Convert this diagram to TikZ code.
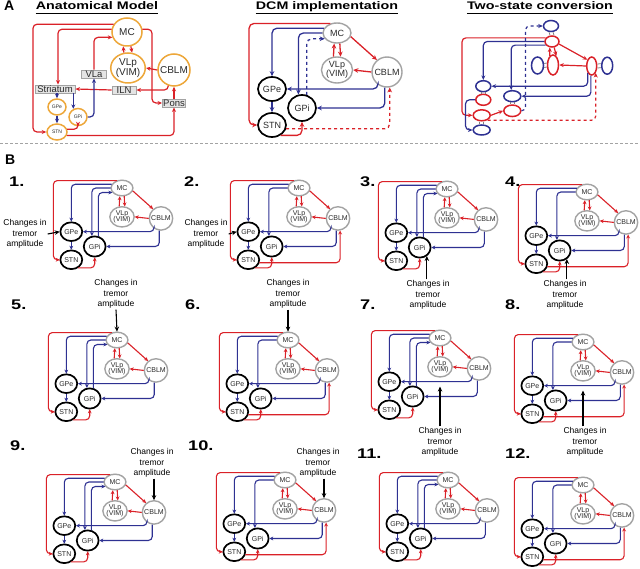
\documentclass[tikz,border=0pt]{standalone}
\usepackage{fontspec}
\setmainfont{Liberation Sans}
\newfontfamily\headfont[FakeStretch=1.3]{Liberation Sans}
\usetikzlibrary{arrows.meta, calc, shapes.geometric}
\definecolor{redc}{HTML}{DA2128}
\definecolor{bluec}{HTML}{2E3192}
\definecolor{orc}{HTML}{EDA73A}
\definecolor{grc}{HTML}{A3A3A3}
\definecolor{boxc}{HTML}{E4E4E4}
\definecolor{txtc}{HTML}{2A2A2A}

% one DCM network: #1 suffix, #2 MC position, #3 size style, #4 variant (0 DCM, 1 odd, 2 even)
\newcommand{\dcmnet}[4]{%
\begin{scope}[shift={#2},#3]
\node[grayc,minimum width=28pt,minimum height=20pt] (mc#1) at (0,0) {MC};
\node[grayc,minimum width=28pt,minimum height=26pt] (vlp#1) at (0,37) {VLp\\(VIM)};
\node[grayc,circle,minimum size=30pt] (cblm#1) at (50,39) {CBLM};
\node[blkc,minimum width=28pt,minimum height=24pt] (gpe#1) at (-65,56) {GPe};
\node[blkc,minimum width=28pt,minimum height=26pt] (gpi#1) at (-35,75) {GPi};
\node[blkc,minimum width=28pt,minimum height=24pt] (stn#1) at (-65,92) {STN};
\coordinate (lc#1) at (-88,92);
% cortex outputs
\draw[rd] (mc#1.125) -| (lc#1) -- (stn#1.west);
\draw[bl] (mc#1.160) -| (gpe#1.north);
\draw[bl] (mc#1.180) -| (gpi#1.105);
\draw[rd] (vlp#1.105) -- (mc#1.255);
\draw[rd] (mc#1.285) -- (vlp#1.75);
\draw[rd] (mc#1.-15) -- (cblm#1.130);
% cerebellum outputs
\draw[rd] (cblm#1.west) -- (vlp#1.east);
\draw[bl] (cblm#1.235) |- (gpe#1.east);
\draw[bl] (cblm#1.262) |- (gpi#1.east);
% basal ganglia
\draw[bl] (gpe#1.south) -- (stn#1.north);
\draw[rd] (stn#1.-50) -| (gpi#1.south);
\ifcase#4\relax
  \draw[bl,dashed] (gpi#1.70) |- (mc#1.205);
  \draw[rd,dashed] (stn#1.-15) -| (cblm#1.280);
\or
  \draw[bl] (gpi#1.70) |- (mc#1.205);
\or
  \draw[rd] (stn#1.-15) -| (cblm#1.280);
\fi
\end{scope}}

\begin{document}
\begin{tikzpicture}[x=1pt,y=-1pt,>={Stealth[length=4.5pt,width=4pt]},
  rd/.style={->,redc},
  bl/.style={->,bluec},
  bignet/.style={line width=1.3pt,rounded corners=5pt,>={Stealth[length=5pt,width=4.6pt]}},
  smallnet/.style={scale=0.78,transform shape,line width=1.1pt,rounded corners=4pt,>={Stealth[length=4pt,width=3.8pt]}},
  grayc/.style={ellipse,draw=grc,line width=1.4pt,fill=white,inner sep=0pt,align=center,text=txtc,font=\fontsize{9}{8.5}\selectfont},
  blkc/.style={grayc,draw=black,line width=1.7pt},
  orcirc/.style={ellipse,draw=orc,line width=1.5pt,fill=white,inner sep=0pt,align=center,text=txtc,font=\fontsize{10}{9.5}\selectfont},
  abox/.style={rectangle,sharp corners,draw=grc,fill=boxc,line width=0.9pt,inner sep=0pt,minimum height=8pt,text=txtc,font=\fontsize{9.5}{9.5}\selectfont},
  tsr/.style={ellipse,draw=redc,line width=1.5pt,fill=white,inner sep=0pt},
  tsb/.style={tsr,draw=bluec},
  ladder/.style={draw=gray,line width=0.8pt},
  stim/.style={align=center,inner sep=1pt,font=\fontsize{8.5}{10.5}\selectfont},
  inarr/.style={->,black,line width=1.1pt,>={Stealth[length=5pt,width=4.5pt]}},
  numlbl/.style={anchor=base west,inner sep=0pt,font=\headfont\bfseries\fontsize{14}{14}\selectfont},
  ttl/.style={anchor=base,inner sep=0pt,text depth=3.5pt,font=\headfont\bfseries\fontsize{11}{11}\selectfont}]
\useasboundingbox (0,0) rectangle (640,569);

% panel letters and titles
\node[anchor=base west,inner sep=0pt,font=\bfseries\fontsize{14}{14}\selectfont] (pa) at (4,11) {A};
\node[anchor=base west,inner sep=0pt,font=\bfseries\fontsize{14}{14}\selectfont] (pb) at (5,165) {B};
\node[ttl] (ttla) at (97,10) {Anatomical Model};
\node[ttl] (ttlb) at (327,10) {DCM implementation};
\node[ttl] (ttlc) at (540,10) {Two-state conversion};
\foreach \t in {ttla,ttlb,ttlc} \draw[line width=1.1pt] (\t.south west) -- (\t.south east);
\draw[grc,line width=0.7pt,dash pattern=on 3pt off 2pt] (0,143) -- (640,143);

% ---- A: anatomical model
\begin{scope}[line width=1.2pt,rounded corners=4pt]
\node[orcirc,minimum width=30pt,minimum height=28pt] (amc) at (127,32) {MC};
\node[orcirc,minimum width=34pt,minimum height=30pt] (avlp) at (128,68) {VLp\\(VIM)};
\node[orcirc,circle,minimum size=32pt] (acblm) at (174,70) {CBLM};
\node[abox,minimum width=25pt] (avla) at (94,74) {VLa};
\node[abox,minimum width=40pt] (astr) at (55,89) {Striatum};
\node[abox,minimum width=24pt] (ailn) at (124,90) {ILN};
\node[abox,minimum width=23pt] (apons) at (174,103) {Pons};
\node[orcirc,minimum width=18pt,minimum height=16pt,font=\fontsize{5}{5}\selectfont] (agpe) at (57,107) {GPe};
\node[orcirc,minimum width=18pt,minimum height=17pt,font=\fontsize{5}{5}\selectfont] (agpi) at (78,117) {GPi};
\node[orcirc,minimum width=20pt,minimum height=16pt,font=\fontsize{5}{5}\selectfont] (astn) at (57,132) {STN};
\coordinate (alc) at (33,132);
\coordinate (arc) at (152,103);
\draw[rd] (amc.150) -| (alc) -- (astn.west);
\draw[rd] (amc.170) -| ([xshift=3pt]astr.north);
\draw[rd] (avla.north) |- (amc.200);
\draw[rd] (avlp.105) -- (amc.255);
\draw[rd] (amc.285) -- (avlp.75);
\draw[rd] (acblm.west) -- (avlp.east);
\draw[rd] (acblm.250) |- (ailn.east);
\draw[rd] (ailn.west) -- (astr.east);
\draw[rd] (amc.10) -| (arc) -- (apons.west);
\draw[rd] (apons.north) -- (acblm.south);
\draw[rd] (astn.-20) -| (apons.south);
\draw[rd] (astn.15) -| (agpi.south);
\draw[bl] (agpi.east) -| (avla.south);
\draw[bl] (astr.south -| agpe.north) -- (agpe.north);
\draw[bl] (astr.south -| agpi.120) -- (agpi.120);
\draw[bl] (agpe.south) -- (astn.north);
\end{scope}

% ---- A: DCM implementation
\dcmnet{A}{(337,33)}{bignet}{0}

% ---- A: two-state conversion
\begin{scope}[line width=1.2pt,rounded corners=4pt]
\node[tsb,minimum width=15pt,minimum height=11pt] (tsmcb) at (551,26) {};
\node[tsr,minimum width=14pt,minimum height=11pt] (tsmcr) at (552,41.5) {};
\node[tsb,minimum width=12pt,minimum height=17pt] (tsvlpb) at (537.5,65.5) {};
\node[tsr,minimum width=11pt,minimum height=20pt] (tsvlpr) at (553,65) {};
\node[tsr,minimum width=10pt,minimum height=18pt] (tscblmr) at (591.7,66) {};
\node[tsb,minimum width=11pt,minimum height=17pt] (tscblmb) at (607.2,65.7) {};
\node[tsb,minimum width=15pt,minimum height=11pt] (tsgpeb) at (483.3,86.2) {};
\node[tsr,minimum width=15pt,minimum height=11pt] (tsgper) at (483.3,99.8) {};
\node[tsb,minimum width=17pt,minimum height=11pt] (tsgpib) at (512.3,96.2) {};
\node[tsr,minimum width=17pt,minimum height=11.5pt] (tsgpir) at (512.3,110.8) {};
\node[tsr,minimum width=17pt,minimum height=11pt] (tsstnr) at (481.7,115.3) {};
\node[tsb,minimum width=17pt,minimum height=10pt] (tsstnb) at (481.7,130) {};
% ladders between the two states
\foreach \u/\l in {tsmcb/tsmcr,tsgpeb/tsgper,tsgpib/tsgpir,tsstnr/tsstnb} {
  \draw[ladder] ([xshift=-2pt]\u.south) -- ([xshift=-2pt]\l.north);
  \draw[ladder] ([xshift=2pt]\u.south) -- ([xshift=2pt]\l.north);
}
\foreach \u/\l in {tsvlpb/tsvlpr,tscblmr/tscblmb} {
  \draw[ladder] ([yshift=-2pt]\u.east) -- ([yshift=-2pt]\l.west);
  \draw[ladder] ([yshift=2pt]\u.east) -- ([yshift=2pt]\l.west);
}
\coordinate (tslc) at (462,115.3);
\draw[rd] (tsmcr.150) -| (tslc) -- (tsstnr.west);
\draw[bl] (tsmcr.180) -| (tsgpeb.north);
\draw[bl] (tsmcr.210) -| (tsgpib.100);
\draw[bl,dashed] (tsgpir.east) -- ++(4,0) |- (tsmcb.west);
\draw[rd] (tsvlpr.110) -- (tsmcr.250);
\draw[rd] (tsmcr.290) -- (tsvlpr.70);
\draw[rd] (tsmcr.-20) -- (tscblmr.125);
\draw[rd] (tscblmr.west) -- (tsvlpr.east);
\draw[bl] (tscblmr.240) |- (tsgpeb.east);
\draw[bl] (tscblmr.265) |- (tsgpib.east);
\draw[bl] (tsgper.west) -- ++(-9.5,0) |- (tsstnb.west);
\draw[rd] (tsstnr.east) -- (tsgpir.west);
\draw[rd,dashed] (tsstnr.-40) -| (tscblmr.300);
\end{scope}

% ---- B: twelve models
\node[numlbl] (n1) at (9,187) {1.};
\node[numlbl] (n2) at (184,187) {2.};
\node[numlbl] (n3) at (360,187) {3.};
\node[numlbl] (n4) at (505,187) {4.};
\node[numlbl] (n5) at (11,310) {5.};
\node[numlbl] (n6) at (185,310) {6.};
\node[numlbl] (n7) at (360,310) {7.};
\node[numlbl] (n8) at (505,310) {8.};
\node[numlbl] (n9) at (10,450) {9.};
\node[numlbl] (n10) at (188,450) {10.};
\node[numlbl] (n11) at (357,458) {11.};
\node[numlbl] (n12) at (505,458) {12.};

\dcmnet{1}{(122,188)}{smallnet}{1}
\dcmnet{2}{(299,188)}{smallnet}{2}
\dcmnet{3}{(447,189)}{smallnet}{1}
\dcmnet{4}{(587,192)}{smallnet}{2}
\dcmnet{5}{(117,340)}{smallnet}{1}
\dcmnet{6}{(288,340)}{smallnet}{2}
\dcmnet{7}{(440,338)}{smallnet}{1}
\dcmnet{8}{(583,342)}{smallnet}{2}
\dcmnet{9}{(115,482)}{smallnet}{1}
\dcmnet{10}{(285,480)}{smallnet}{2}
\dcmnet{11}{(448,480)}{smallnet}{1}
\dcmnet{12}{(583,485)}{smallnet}{2}

% inputs: changes in tremor amplitude
\node[stim] (stim1) at (25,234) {Changes in\\tremor\\amplitude};
\node[stim] (stim2) at (206,234) {Changes in\\tremor\\amplitude};
\node[stim] (stim3) at (428,295) {Changes in\\tremor\\amplitude};
\node[stim] (stim4) at (565,295) {Changes in\\tremor\\amplitude};
\node[stim] (stim5) at (116,294) {Changes in\\tremor\\amplitude};
\node[stim] (stim6) at (288,294) {Changes in\\tremor\\amplitude};
\node[stim] (stim7) at (440,442) {Changes in\\tremor\\amplitude};
\node[stim] (stim8) at (585,442) {Changes in\\tremor\\amplitude};
\node[stim] (stim9) at (152,463) {Changes in\\tremor\\amplitude};
\node[stim] (stim10) at (318,463) {Changes in\\tremor\\amplitude};
\draw[inarr] (stim1.east) -- (gpe1.west);
\draw[inarr] (stim2.east) -- (gpe2.west);
\draw[inarr] (stim3.north -| gpi3.-50) -- (gpi3.-50);
\draw[inarr] (stim4.north -| gpi4.-50) -- (gpi4.-50);
\draw[inarr] (stim5.south) -- (mc5.north);
\draw[inarr] (stim6.south) -- (mc6.north);
\draw[inarr,shorten >=9pt] (stim7.north -| vlp7.south) -- (vlp7.south);
\draw[inarr,shorten >=9pt] (stim8.north -| vlp8.south) -- (vlp8.south);
\draw[inarr] (stim9.south -| cblm9.north) -- (cblm9.north);
\draw[inarr] (stim10.south -| cblm10.north) -- (cblm10.north);
\end{tikzpicture}
\end{document}
